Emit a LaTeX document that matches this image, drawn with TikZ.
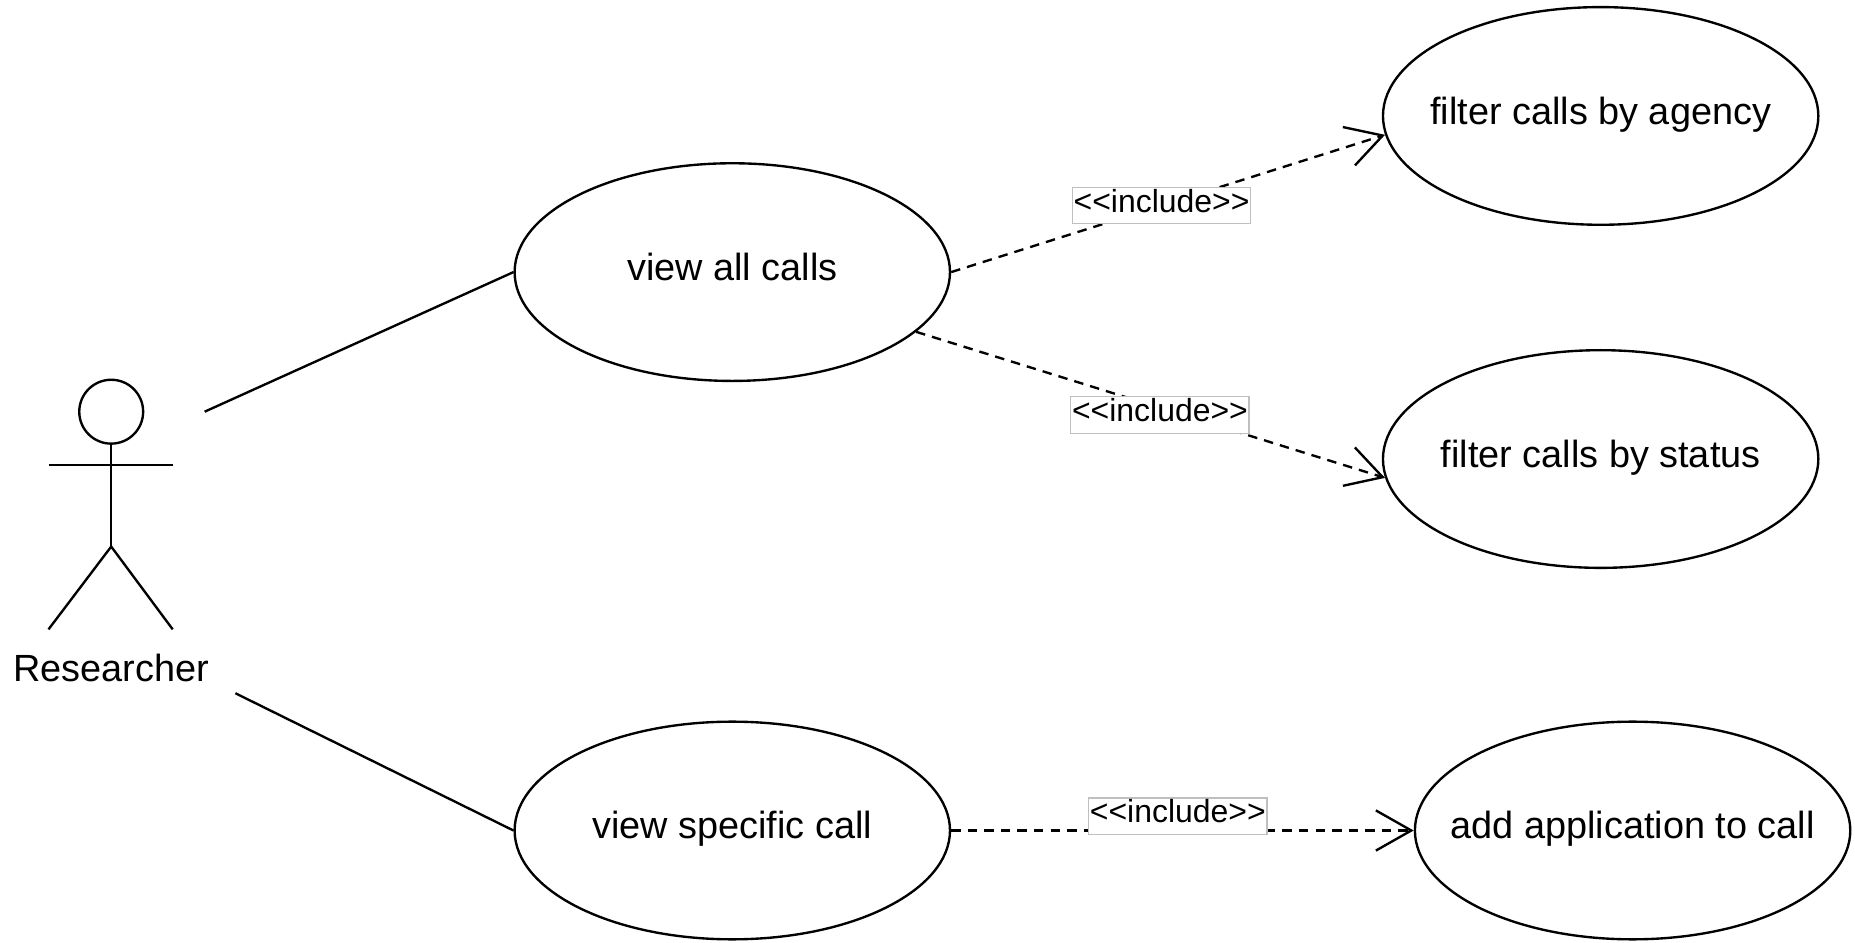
\documentclass[tikz,border=0pt]{standalone}
\usepackage{fontspec}
\setmainfont{Liberation Sans}
\newfontfamily\inclfont{Liberation Sans}
\usetikzlibrary{shapes.geometric}
\usetikzlibrary{arrows.meta}

\begin{document}
\begin{tikzpicture}[x=0.5pt, y=-0.5pt, line width=1pt,
	usecase/.style={ellipse, draw, minimum width=184pt, minimum height=92pt, inner sep=0pt,
		font=\fontsize{16}{19}\selectfont, text height=0.9em, text depth=0.2em},
	incl/.style={dash pattern=on 4pt off 3pt, -{Straight Barb[length=15pt, width=17pt]}},
	incllabel/.style={solid, draw=black!25, line width=0.5pt, fill=white, inner xsep=0.5pt, inner ysep=3pt,
		font=\inclfont\fontsize{13.5}{16}\selectfont, text height=0.75em, text depth=0.2em}]
				\useasboundingbox (0,0) rectangle (1568,797);
				
				\node[usecase] (vall) at (619,230) {\makebox[0pt]{view all calls}};
				\node[usecase] (vspec) at (619,702) {\makebox[0pt]{view specific call}};
				\node[usecase] (agency) at (1353,98) {\makebox[0pt]{filter calls by agency}};
				\node[usecase] (status) at (1353,388) {\makebox[0pt]{filter calls by status}};
				\node[usecase] (addapp) at (1380,702) {\makebox[0pt]{add application to call}};
				
				% actor
				\node[circle,draw,minimum size=27pt,inner sep=0pt] (head) at (94,348) {};
				\coordinate (hip) at (94,462);
				\draw (head.south) -- (hip);
				\draw (41,393) -- (146,393);
				\draw (41,532) -- (hip) -- (146,532);
				\node[anchor=base, font=\fontsize{16}{19}\selectfont] (researcher) at (94,576) {Researcher};
				
				\coordinate (actTop) at (173,348);
				\coordinate (actBot) at (199,586);
				\draw (actTop) -- (vall.west);
				\draw (actBot) -- (vspec.west);
				
				\draw[incl] (vall.east) -- node[incllabel, pos=0.485] (inclA) {\textless\textless include\textgreater\textgreater} (agency.185);
				\draw[incl] (vall.342) -- node[incllabel, pos=0.52, yshift=-3pt] (inclB) {\textless\textless include\textgreater\textgreater} (status.185);
				\draw[incl] (vspec.east) -- node[incllabel, pos=0.49, yshift=6pt] (inclC) {\textless\textless include\textgreater\textgreater} (addapp.west);
			\end{tikzpicture}
\end{document}
